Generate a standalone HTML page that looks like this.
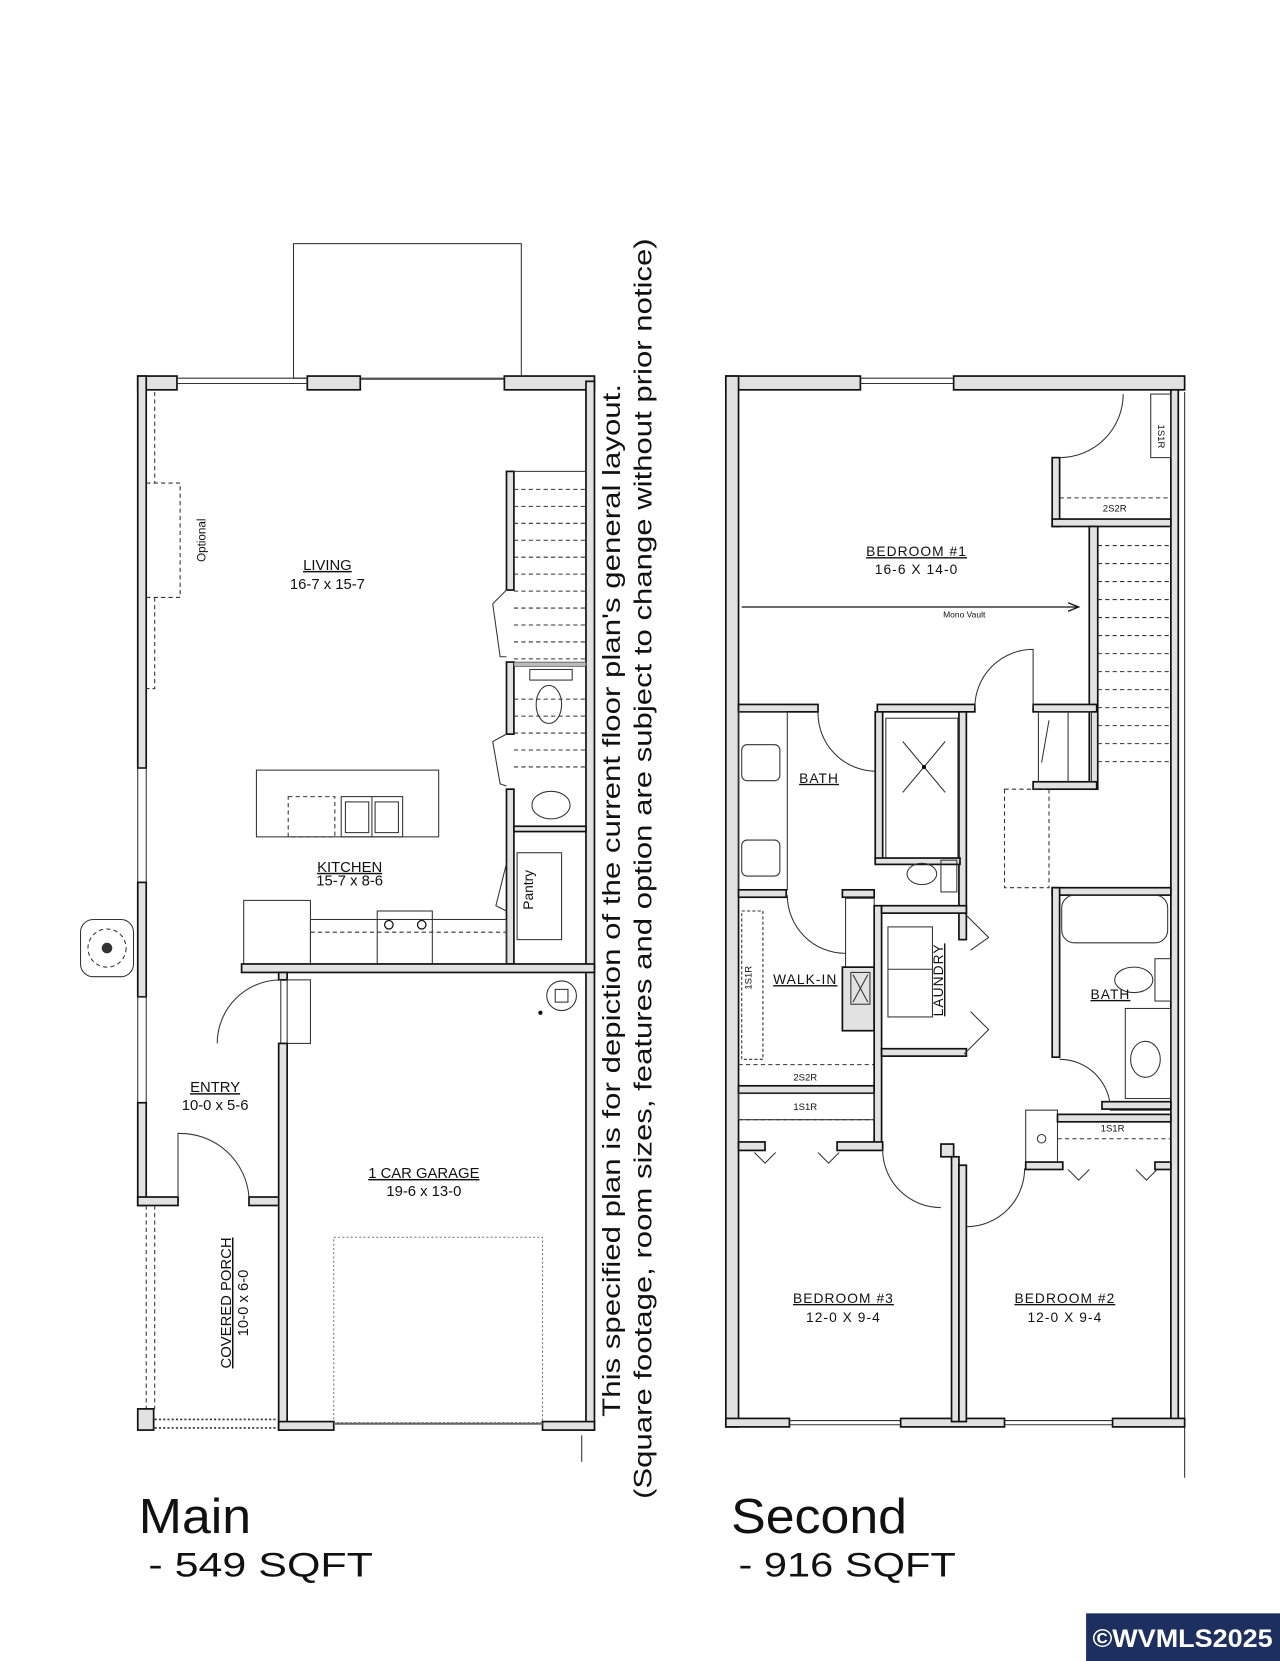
<!DOCTYPE html>
<html><head><meta charset="utf-8"><style>
html,body{margin:0;padding:0;background:#fff}
svg{display:block}
text{font-family:"Liberation Sans",sans-serif;fill:#111}
.w{fill:#e2e2e2;stroke:#111;stroke-width:1.6}
.l{fill:none;stroke:#111;stroke-width:1.2}
.t{fill:none;stroke:#333;stroke-width:1}
.d{fill:none;stroke:#333;stroke-width:1;stroke-dasharray:4 3}
.dd{fill:none;stroke:#333;stroke-width:1.5;stroke-dasharray:2 2}
</style></head><body>
<svg width="1280" height="1661" viewBox="0 0 1208 1568" preserveAspectRatio="none" xmlns="http://www.w3.org/2000/svg">
<rect x="0" y="0" width="1208" height="1568" fill="#fff"/>

<!-- ===== MAIN FLOOR ===== -->
<rect x="277" y="230" width="215" height="127" class="t" fill="none"/>
<rect x="130" y="355" width="37" height="13" class="w"/>
<rect x="290" y="355" width="50" height="13" class="w"/>
<rect x="476" y="355" width="85" height="13" class="w"/>
<line x1="167" y1="357" x2="290" y2="357" class="t"/><line x1="167" y1="362" x2="290" y2="362" class="t"/>
<line x1="340" y1="358" x2="476" y2="358" class="t"/>
<rect x="130" y="355" width="8" height="370" class="w"/>
<rect x="130" y="725" width="8" height="108" class="t" fill="none"/>
<rect x="130" y="833" width="8" height="108" class="w"/>
<rect x="130" y="941" width="8" height="100" class="t" fill="none"/>
<rect x="130" y="1041" width="8" height="97" class="w"/>
<rect x="130" y="1130" width="38" height="8" class="w"/>
<rect x="235" y="1130" width="36" height="8" class="w"/>
<rect x="553" y="360" width="8" height="990" class="w"/>
<line x1="549" y1="1355" x2="549" y2="1380" class="t"/>
<path d="M146 370 V456 M138 456 H170 V564 H138 M146 564 V650 H138" class="d"/>
<text x="194" y="510" font-size="11" transform="rotate(-90 194 510)" text-anchor="middle">Optional</text>
<text x="309" y="538" font-size="14" text-anchor="middle" text-decoration="underline">LIVING</text>
<text x="309" y="556" font-size="14" text-anchor="middle">16-7 x 15-7</text>
<rect x="478" y="445" width="7" height="112" class="w"/>
<rect x="478" y="625" width="7" height="68" class="w"/>
<rect x="478" y="745" width="7" height="165" class="w"/>
<g class="d">
<line x1="485" y1="462" x2="553" y2="462"/><line x1="485" y1="478" x2="553" y2="478"/><line x1="485" y1="494" x2="553" y2="494"/><line x1="485" y1="510" x2="553" y2="510"/><line x1="485" y1="526" x2="553" y2="526"/><line x1="485" y1="542" x2="553" y2="542"/><line x1="485" y1="558" x2="553" y2="558"/><line x1="485" y1="574" x2="553" y2="574"/><line x1="485" y1="590" x2="553" y2="590"/><line x1="485" y1="606" x2="553" y2="606"/><line x1="485" y1="622" x2="553" y2="622"/><line x1="485" y1="660" x2="553" y2="660"/><line x1="485" y1="676" x2="553" y2="676"/><line x1="485" y1="692" x2="553" y2="692"/><line x1="485" y1="708" x2="553" y2="708"/><line x1="485" y1="724" x2="553" y2="724"/>
</g>
<line x1="485" y1="445" x2="553" y2="445" class="t"/>
<rect x="485" y="625" width="68" height="4" fill="#bbb" stroke="#333" stroke-width="0.6"/>
<rect x="500" y="632" width="40" height="10" class="t"/>
<ellipse cx="518" cy="665" rx="12" ry="18" class="t"/>
<path d="M478 557 L465 570 L472 620 L478 620 M478 693 L465 700 L472 740 L478 742" class="t"/>
<rect x="485" y="780" width="68" height="5" class="w"/>
<ellipse cx="520" cy="760" rx="18" ry="13" class="t"/>
<rect x="488" y="805" width="42" height="82" class="t"/>
<text x="503" y="840" font-size="13" transform="rotate(-90 503 840)" text-anchor="middle">Pantry</text>
<path d="M478 815 L468 855 L478 860" class="t"/>
<rect x="242" y="727" width="172" height="63" class="t"/>
<rect x="272" y="752" width="44" height="38" class="d"/>
<rect x="322" y="752" width="58" height="38" class="t"/><line x1="351" y1="752" x2="351" y2="790" class="t"/>
<rect x="326" y="757" width="22" height="29" class="t"/><rect x="354" y="757" width="22" height="29" class="t"/>
<text x="330" y="823" font-size="14" text-anchor="middle" text-decoration="underline">KITCHEN</text>
<text x="330" y="836" font-size="14" text-anchor="middle">15-7 x 8-6</text>
<rect x="230" y="850" width="63" height="60" class="t"/>
<rect x="293" y="868" width="185" height="42" class="t"/>
<line x1="293" y1="880" x2="478" y2="880" class="d"/>
<rect x="356" y="860" width="52" height="50" class="t"/>
<circle cx="367" cy="873" r="4" class="l"/><circle cx="398" cy="873" r="4" class="l"/>
<rect x="228" y="910" width="333" height="8" class="w"/>
<rect x="263" y="918" width="8" height="7" class="w"/>
<rect x="271" y="925" width="22" height="60" class="t"/>
<path d="M205 985 A60 60 0 0 1 265 925" class="t"/>
<line x1="265" y1="925" x2="265" y2="985" class="t"/>
<rect x="263" y="985" width="8" height="365" class="w"/>
<text x="203" y="1031" font-size="14" text-anchor="middle" text-decoration="underline">ENTRY</text>
<text x="203" y="1048" font-size="14" text-anchor="middle">10-0 x 5-6</text>
<path d="M168 1130 V1070 A65 65 0 0 1 235 1130" class="t"/>
<circle cx="530" cy="940" r="14" class="t"/><rect x="524" y="934" width="12" height="12" class="t"/>
<circle cx="510" cy="956" r="2" fill="#111"/>
<text x="400" y="1112" font-size="14" text-anchor="middle" text-decoration="underline">1 CAR GARAGE</text>
<text x="400" y="1129" font-size="14" text-anchor="middle">19-6 x 13-0</text>
<rect x="315" y="1168" width="197" height="175" class="dd" style="stroke-width:1;stroke:#777"/>
<rect x="263" y="1342" width="52" height="8" class="w"/>
<rect x="512" y="1342" width="49" height="8" class="w"/>
<line x1="315" y1="1344" x2="512" y2="1344" stroke="#666" stroke-width="2"/>
<path d="M138 1138 V1330 M146 1138 V1330" class="d"/>
<rect x="130" y="1330" width="15" height="20" class="w"/>
<path d="M146 1340 H263 M146 1348 H263" class="dd"/>
<text x="218" y="1230" font-size="14" transform="rotate(-90 218 1230)" text-anchor="middle" text-decoration="underline">COVERED PORCH</text>
<text x="234" y="1230" font-size="14" transform="rotate(-90 234 1230)" text-anchor="middle">10-0 x 6-0</text>
<rect x="76" y="868" width="50" height="54" rx="12" class="t"/>
<circle cx="101" cy="895" r="18" class="d"/>
<circle cx="101" cy="895" r="5" fill="#333"/>

<text x="585" y="850" font-size="24" transform="rotate(-90 585 850)" text-anchor="middle" textLength="975" lengthAdjust="spacingAndGlyphs">This specified plan is for depiction of the current floor plan's general layout.</text>
<text x="615" y="820" font-size="24" transform="rotate(-90 615 820)" text-anchor="middle" textLength="1190" lengthAdjust="spacingAndGlyphs">(Square footage, room sizes, features and option are subject to change without prior notice)</text>

<!-- ===== SECOND FLOOR ===== -->
<rect x="685" y="355" width="127" height="13" class="w"/>
<rect x="900" y="355" width="218" height="13" class="w"/>
<line x1="812" y1="357" x2="900" y2="357" class="t"/><line x1="812" y1="362" x2="900" y2="362" class="t"/>
<rect x="685" y="355" width="12" height="992" class="w"/>
<rect x="1105" y="368" width="7" height="977" class="w"/>
<line x1="1118" y1="370" x2="1118" y2="1395" class="t"/>
<rect x="685" y="1339" width="60" height="8" class="w"/>
<rect x="850" y="1339" width="98" height="8" class="w"/>
<rect x="1050" y="1339" width="68" height="8" class="w"/>
<path d="M745 1341 H850 M745 1345 H850 M948 1341 H1050 M948 1345 H1050" class="t"/>
<rect x="993" y="432" width="7" height="65" class="w"/>
<rect x="993" y="490" width="112" height="7" class="w"/>
<path d="M1000 432 A60 60 0 0 0 1060 372" class="t"/>
<rect x="1086" y="372" width="19" height="60" class="t"/>
<text x="1093" y="412" font-size="9" transform="rotate(90 1093 412)" text-anchor="middle">1S1R</text>
<line x1="1000" y1="470" x2="1105" y2="470" class="d"/>
<text x="1052" y="483" font-size="9" text-anchor="middle">2S2R</text>
<text x="865" y="525" font-size="13" text-anchor="middle" text-decoration="underline" letter-spacing="1">BEDROOM #1</text>
<text x="865" y="542" font-size="13" text-anchor="middle" letter-spacing="1">16-6 X 14-0</text>
<line x1="700" y1="573" x2="1018" y2="573" class="l"/>
<path d="M1008 569 L1018 573 L1008 577" class="l"/>
<text x="910" y="583" font-size="8" text-anchor="middle">Mono Vault</text>
<rect x="1028" y="497" width="8" height="248" class="w"/>
<g class="d">
<line x1="1036" y1="515" x2="1105" y2="515"/><line x1="1036" y1="532" x2="1105" y2="532"/><line x1="1036" y1="549" x2="1105" y2="549"/><line x1="1036" y1="566" x2="1105" y2="566"/><line x1="1036" y1="583" x2="1105" y2="583"/><line x1="1036" y1="600" x2="1105" y2="600"/><line x1="1036" y1="617" x2="1105" y2="617"/><line x1="1036" y1="634" x2="1105" y2="634"/><line x1="1036" y1="651" x2="1105" y2="651"/><line x1="1036" y1="668" x2="1105" y2="668"/><line x1="1036" y1="685" x2="1105" y2="685"/><line x1="1036" y1="702" x2="1105" y2="702"/><line x1="1036" y1="719" x2="1105" y2="719"/>
</g>
<rect x="697" y="665" width="75" height="7" class="w"/>
<rect x="828" y="665" width="92" height="7" class="w"/>
<rect x="975" y="665" width="60" height="7" class="w"/>
<path d="M920 668 A55 55 0 0 1 975 613 V668" class="t"/>
<rect x="980" y="672" width="50" height="73" class="t"/>
<rect x="975" y="738" width="60" height="7" class="w"/>
<path d="M990 680 L983 720 M1008 672 V738" class="t"/>
<rect x="697" y="672" width="46" height="168" class="t"/>
<rect x="700" y="703" width="36" height="34" rx="5" class="t"/>
<rect x="700" y="793" width="36" height="34" rx="5" class="t"/>
<path d="M772 672 A55 55 0 0 0 826 728 V672" class="t"/>
<text x="773" y="739" font-size="13" text-anchor="middle" text-decoration="underline" letter-spacing="1">BATH</text>
<rect x="826" y="672" width="7" height="140" class="w"/>
<rect x="905" y="672" width="7" height="215" class="w"/>
<rect x="836" y="678" width="68" height="132" class="t"/>
<path d="M852 700 L892 748 M892 700 L852 748" class="t"/>
<circle cx="872" cy="724" r="2" fill="#111"/>
<rect x="826" y="810" width="80" height="6" class="w"/>
<ellipse cx="870" cy="825" rx="14" ry="10" class="t"/>
<rect x="888" y="812" width="15" height="30" class="t"/>
<rect x="697" y="840" width="45" height="7" class="w"/>
<rect x="795" y="840" width="30" height="7" class="w"/>
<path d="M743 845 A55 55 0 0 0 798 900" class="t"/>
<rect x="798" y="848" width="27" height="65" class="t"/>
<rect x="795" y="913" width="30" height="60" class="w"/>
<rect x="803" y="918" width="18" height="30" class="t"/>
<path d="M805 920 L819 946 M819 920 L805 946" class="t"/>
<rect x="700" y="860" width="20" height="140" class="t" style="stroke-dasharray:3 2"/>
<text x="709" y="923" font-size="9" transform="rotate(-90 709 923)" text-anchor="middle">1S1R</text>
<text x="760" y="929" font-size="13" text-anchor="middle" text-decoration="underline" letter-spacing="1">WALK-IN</text>
<line x1="697" y1="1005" x2="825" y2="1005" class="d"/>
<text x="760" y="1020" font-size="9" text-anchor="middle">2S2R</text>
<rect x="697" y="1025" width="128" height="7" class="w"/>
<rect x="825" y="855" width="7" height="230" class="w"/>
<rect x="832" y="855" width="80" height="7" class="w"/>
<rect x="838" y="875" width="42" height="85" class="t"/>
<line x1="838" y1="915" x2="880" y2="915" class="t"/>
<text x="890" y="925" font-size="13" transform="rotate(-90 890 925)" text-anchor="middle" letter-spacing="1" text-decoration="underline">LAUNDRY</text>
<rect x="832" y="990" width="80" height="7" class="w"/>
<path d="M910 862 L933 885 L916 897 M910 995 L933 972 L916 955" class="t"/>
<rect x="948" y="745" width="42" height="93" class="d"/>
<rect x="993" y="838" width="112" height="7" class="w"/>
<rect x="993" y="838" width="7" height="160" class="w"/>
<rect x="1002" y="845" width="100" height="45" rx="12" class="t"/>
<rect x="1090" y="905" width="15" height="40" class="t"/>
<ellipse cx="1070" cy="925" rx="18" ry="12" class="t"/>
<text x="1048" y="943" font-size="13" text-anchor="middle" text-decoration="underline" letter-spacing="1">BATH</text>
<rect x="1062" y="952" width="43" height="85" class="t"/>
<ellipse cx="1081" cy="1000" rx="14" ry="17" class="t"/>
<path d="M1000 1000 A48 48 0 0 1 1048 1048 H1105" class="t"/>
<rect x="1040" y="1040" width="65" height="7" class="w"/>
<rect x="697" y="1032" width="128" height="25" class="t"/>
<line x1="697" y1="1057" x2="825" y2="1057" class="d"/>
<text x="760" y="1048" font-size="9" text-anchor="middle">1S1R</text>
<rect x="697" y="1078" width="25" height="8" class="w"/>
<rect x="790" y="1078" width="43" height="8" class="w"/>
<path d="M712 1088 L722 1098 L732 1088 M772 1088 L782 1098 L792 1088" class="t"/>
<path d="M833 1085 A55 55 0 0 0 888 1140" class="t"/>
<rect x="888" y="1080" width="12" height="12" class="w"/>
<rect x="898" y="1092" width="7" height="250" class="w"/>
<rect x="905" y="1100" width="7" height="242" class="w"/>
<path d="M912 1158 A55 55 0 0 0 967 1103" class="t"/>
<rect x="968" y="1048" width="30" height="52" class="t"/>
<circle cx="983" cy="1075" r="4" class="t"/>
<rect x="998" y="1052" width="107" height="7" class="w"/>
<line x1="998" y1="1075" x2="1105" y2="1075" class="d"/>
<text x="1050" y="1068" font-size="9" text-anchor="middle">1S1R</text>
<rect x="968" y="1097" width="35" height="7" class="w"/>
<rect x="1090" y="1097" width="15" height="7" class="w"/>
<path d="M1008 1104 L1018 1114 L1028 1104 M1072 1104 L1082 1114 L1092 1104" class="t"/>
<text x="796" y="1230" font-size="13" text-anchor="middle" text-decoration="underline" letter-spacing="1">BEDROOM #3</text>
<text x="796" y="1248" font-size="13" text-anchor="middle" letter-spacing="1">12-0 X 9-4</text>
<text x="1005" y="1230" font-size="13" text-anchor="middle" text-decoration="underline" letter-spacing="1">BEDROOM #2</text>
<text x="1005" y="1248" font-size="13" text-anchor="middle" letter-spacing="1">12-0 X 9-4</text>

<text x="131" y="1447" font-size="46" textLength="106" lengthAdjust="spacingAndGlyphs">Main</text>
<text x="140" y="1488" font-size="32" textLength="212" lengthAdjust="spacingAndGlyphs">- 549 SQFT</text>
<text x="690" y="1447" font-size="46" textLength="166" lengthAdjust="spacingAndGlyphs">Second</text>
<text x="697" y="1488" font-size="32" textLength="205" lengthAdjust="spacingAndGlyphs">- 916 SQFT</text>

<rect x="1025" y="1523" width="183" height="45" fill="#1c2f5e"/>
<text x="1116" y="1555" font-size="24" font-weight="bold" text-anchor="middle" style="fill:#fff" textLength="170" lengthAdjust="spacingAndGlyphs">©WVMLS2025</text>
</svg>
</body></html>
